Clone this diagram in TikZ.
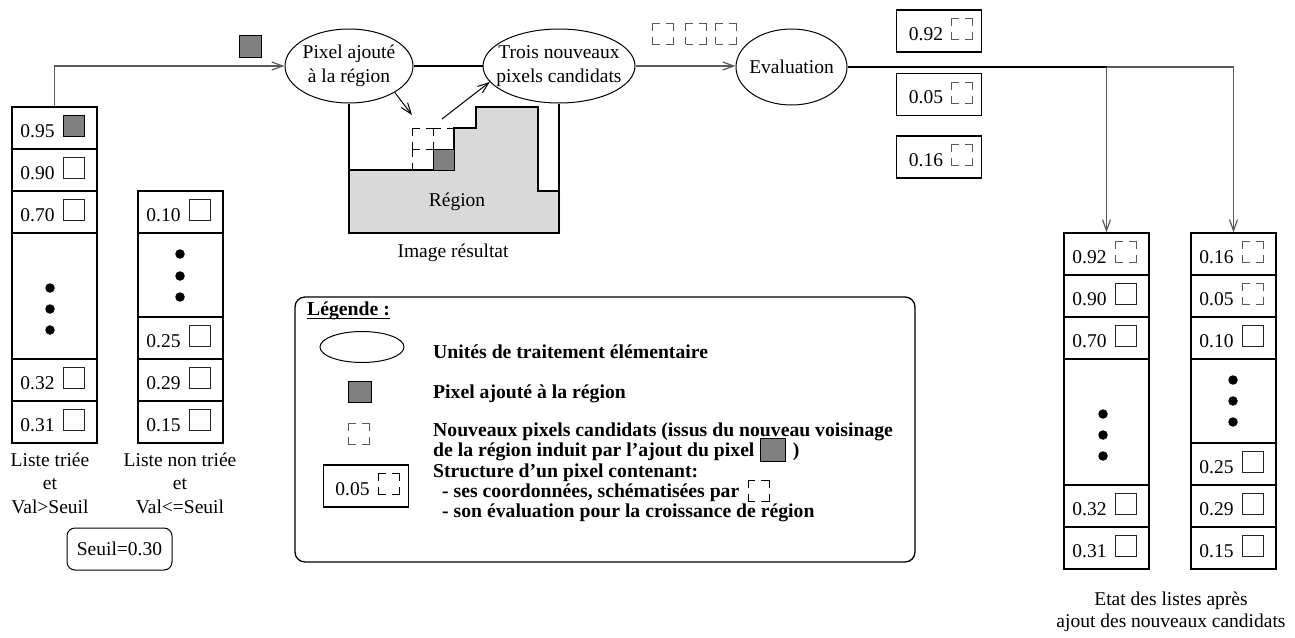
\documentclass[tikz,border=0pt]{standalone}
\usepackage{fontspec}
\setmainfont{Liberation Serif}
\usetikzlibrary{arrows.meta,shapes.geometric}
\definecolor{pixgray}{HTML}{808080}
\definecolor{reggray}{HTML}{D9D9D9}
\definecolor{linegray}{HTML}{5A5A5A}
\newcommand\pxcell[8]{%
  \node[cellbox,minimum height=#4] (#1) at (#2,#3) {};
  \node[valtext] (#1t) at ([xshift=#7,yshift=-2.5]#1.center) {#5};
  \node[#6] (#1s) at ([xshift=#8,yshift=2]#1.center) {};
}
\tikzset{
  cellbox/.style={draw,line width=1.3pt,minimum width=85pt,inner sep=0pt},
  valtext/.style={font=\fontsize{19.5}{22}\selectfont,inner sep=0pt,text height=13pt,text depth=0pt},
  plaintext/.style={font=\fontsize{19.5}{23.5}\selectfont,inner sep=0pt,align=center},
  utext/.style={font=\fontsize{19.5}{24}\selectfont,inner sep=0pt,align=center},
  legtext/.style={font=\bfseries\fontsize{19.7}{22}\selectfont,inner sep=0pt,anchor=base west},
  sqwhite/.style={draw=black!85,line width=0.9pt,minimum size=21pt,inner sep=0pt,fill=white},
  sqgray/.style={sqwhite,fill=pixgray,draw=black},
  sqdash/.style={draw=linegray,line width=0.9pt,minimum size=21pt,inner sep=0pt,dash pattern=on 15pt off 6pt,dash phase=7.5pt},
  sqdashk/.style={sqdash,draw=black},
  unit/.style={ellipse,draw,line width=1pt,inner sep=0pt},
  conn/.style={draw=linegray,line width=1.2pt},
  arr/.style={conn,-{Straight Barb[length=11pt,width=8pt]}},
  arrk/.style={draw=black,line width=1pt,-{Straight Barb[length=11pt,width=8pt]}},
  thickline/.style={draw=black,line width=2.2pt},
  dotn/.style={circle,fill=black,inner sep=0pt,minimum size=9.5pt},
}
\begin{document}
\begin{tikzpicture}[x=1pt,y=-1pt]
\useasboundingbox (0,0) rectangle (1295,637);

% ---------- left lists ----------
\pxcell{c1a}{54.5}{128}{42}{0.95}{sqgray}{-17}{19}
\pxcell{c1b}{54.5}{170}{42}{0.90}{sqwhite}{-17}{19}
\pxcell{c1c}{54.5}{212}{42}{0.70}{sqwhite}{-17}{19}
\node[cellbox,minimum height=126] (c1d) at (54.5,296) {};
\node[dotn] (d1a) at (50,288) {};
\node[dotn] (d1b) at (50,309) {};
\node[dotn] (d1c) at (50,330) {};
\pxcell{c1e}{54.5}{380}{42}{0.32}{sqwhite}{-17}{19}
\pxcell{c1f}{54.5}{422}{42}{0.31}{sqwhite}{-17}{19}

\pxcell{c2a}{180.5}{212}{42}{0.10}{sqwhite}{-17}{19}
\node[cellbox,minimum height=84] (c2d) at (180.5,275) {};
\node[dotn] (d2a) at (180,254) {};
\node[dotn] (d2b) at (180,276) {};
\node[dotn] (d2c) at (180,297) {};
\pxcell{c2e}{180.5}{338}{42}{0.25}{sqwhite}{-17}{19}
\pxcell{c2f}{180.5}{380}{42}{0.29}{sqwhite}{-17}{19}
\pxcell{c2g}{180.5}{422}{42}{0.15}{sqwhite}{-17}{19}

\node[plaintext] (lab1) at (50,483) {Liste triée\\et\\Val>Seuil};
\node[plaintext] (lab2) at (180,483) {Liste non triée\\et\\Val<=Seuil};
\node[draw,line width=1pt,rounded corners=8pt,minimum width=105pt,minimum height=42pt,inner sep=0pt,font=\fontsize{19.5}{22}\selectfont] (seuil) at (119.5,549) {Seuil=0.30};

% ---------- processing units ----------
\node[unit,minimum width=128pt,minimum height=74pt] (pix) at (349,66) {};
\node[utext] (pixt) at (pix.center) {Pixel ajouté\\à la région};
\node[unit,minimum width=152pt,minimum height=74pt] (trois) at (559,66) {};
\node[utext] (troist) at (trois.center) {Trois nouveaux\\pixels candidats};
\node[unit,minimum width=111pt,minimum height=76pt] (eval) at (791.5,67) {};
\node[utext] (evalt) at (eval.center) {Evaluation};

\node[sqgray,minimum size=22pt] (topsq) at (250,46) {};
\node[sqdash] (tq1) at (662.5,33.5) {};
\node[sqdash] (tq2) at (696,33.5) {};
\node[sqdash] (tq3) at (726,33.5) {};

\draw[arr] (c1a.north) |- (pix.west);
\draw[thickline] (pix.east) -- (trois.west);
\draw[arr] (trois.east) -- (trois.east -| eval.west);

% ---------- image resultat ----------
\fill[reggray] (349,170) -- (454,170) -- (454,128) -- (476,128) -- (476,107) -- (538,107) -- (538,191) -- (560,191) -- (560,233) -- (349,233) -- cycle;
\draw[line width=1.1pt] (349,170) -- (454,170) -- (454,128) -- (476,128) -- (476,107) -- (538,107) -- (538,191) -- (560,191);
\coordinate (regbot) at (454,233);
\draw[line width=1.3pt] (pix.south) |- (regbot) -| (trois.south);
\node[sqdashk] (rq1) at (422.5,138.5) {};
\node[sqdashk] (rq2) at (443.5,138.5) {};
\node[sqdashk] (rq3) at (422.5,159.5) {};
\node[sqgray] (rq4) at (443.5,159.5) {};
\node[plaintext] (regt) at (457,202) {Région};
\node[plaintext] (imgt) at (453,253) {Image résultat};

\coordinate (tgt1) at (412,115);
\coordinate (src2) at (442,119);
\draw[arrk] (pix.-30) -- (tgt1);
\draw[arrk] (src2) -- (trois.193);

% ---------- evaluation outputs ----------
\pxcell{e1}{939}{31}{42}{0.92}{sqdash}{-13}{22.5}
\pxcell{e2}{939}{94.5}{42}{0.05}{sqdash}{-13}{22.5}
\pxcell{e3}{939}{157}{42}{0.16}{sqdash}{-13}{22.5}

% ---------- right lists ----------
\pxcell{c3a}{1106.5}{254}{42}{0.92}{sqdash}{-17}{19.5}
\pxcell{c3b}{1106.5}{296}{42}{0.90}{sqwhite}{-17}{19.5}
\pxcell{c3c}{1106.5}{338}{42}{0.70}{sqwhite}{-17}{19.5}
\node[cellbox,minimum height=126] (c3d) at (1106.5,422) {};
\node[dotn] (d3a) at (1103,414) {};
\node[dotn] (d3b) at (1103,435) {};
\node[dotn] (d3c) at (1103,456) {};
\pxcell{c3e}{1106.5}{506}{42}{0.32}{sqwhite}{-17}{19.5}
\pxcell{c3f}{1106.5}{548}{42}{0.31}{sqwhite}{-17}{19.5}

\pxcell{c4a}{1233.5}{254}{42}{0.16}{sqdash}{-17}{19.5}
\pxcell{c4b}{1233.5}{296}{42}{0.05}{sqdash}{-17}{19.5}
\pxcell{c4c}{1233.5}{338}{42}{0.10}{sqwhite}{-17}{19.5}
\node[cellbox,minimum height=84] (c4d) at (1233.5,401) {};
\node[dotn] (d4a) at (1233,380) {};
\node[dotn] (d4b) at (1233,401) {};
\node[dotn] (d4c) at (1233,422) {};
\pxcell{c4e}{1233.5}{464}{42}{0.25}{sqwhite}{-17}{19.5}
\pxcell{c4f}{1233.5}{506}{42}{0.29}{sqwhite}{-17}{19.5}
\pxcell{c4g}{1233.5}{548}{42}{0.15}{sqwhite}{-17}{19.5}

\coordinate (j1) at (c3a.north |- eval.east);
\coordinate (j2) at (c4a.north |- eval.east);
\draw[thickline] (eval.east) -- (j1);
\draw[conn] (j1) -- (j2);
\draw[arr] (j1) -- (c3a.north);
\draw[arr] (j2) -- (c4a.north);

\node[plaintext,font=\fontsize{19.5}{22}\selectfont] (capt) at (1171,612) {Etat des listes après\\ajout des nouveaux candidats};

% ---------- legend ----------
\node[draw,line width=1.3pt,rounded corners=10pt,minimum width=620pt,minimum height=265pt] (legbox) at (605,429.5) {};
\node[legtext] (legt) at (307,315) {Légende :};
\draw[line width=1pt] ([yshift=-3.5]legt.base west) -- ([yshift=-3.5]legt.base east);
\node[unit,minimum width=84pt,minimum height=31pt] (lell) at (362,347) {};
\node[sqgray,minimum width=23pt,minimum height=21pt] (lsq) at (359.5,391.5) {};
\node[sqdash] (ldq) at (359,434) {};
\pxcell{lbox}{366}{486}{42}{0.05}{sqdashk}{-13.5}{22.5}

\node[legtext] (l1) at (433,358) {Unités de traitement élémentaire};
\node[legtext] (l2) at (433,398) {Pixel ajouté à la région};
\node[legtext] (l3) at (433,436) {Nouveaux pixels candidats (issus du nouveau voisinage};
\node[legtext] (l4) at (433,456) {de la région induit par l’ajout du pixel};
\node[sqgray,anchor=west,minimum width=25pt,minimum height=23pt] (l4sq) at ([xshift=5,yshift=6.5]l4.base east) {};
\node[legtext] (l4p) at ([xshift=7]l4sq.east |- l4.base) {)};
\node[legtext] (l5) at (433,477) {Structure d’un pixel contenant:};
\node[legtext] (l6) at (442,497) {- ses coordonnées, schématisées par};
\node[sqdashk,anchor=west] (l6sq) at ([xshift=8,yshift=6]l6.base east) {};
\node[legtext] (l7) at (442,517) {- son évaluation pour la croissance de région};
\end{tikzpicture}
\end{document}
